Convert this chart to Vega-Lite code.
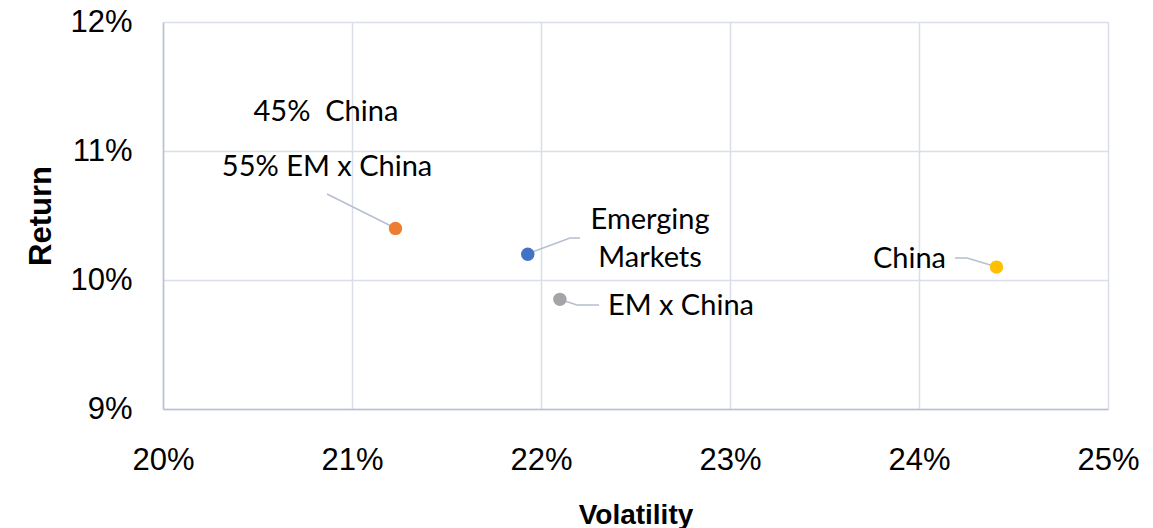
{
  "$schema": "https://vega.github.io/schema/vega-lite/v6.json",
  "width": 945,
  "height": 387,
  "autosize": {"type": "none"},
  "padding": {"left": 163, "top": 22, "right": 45, "bottom": 119},
  "background": "white",
  "config": {"view": {"stroke": null}, "font": "Liberation Sans"},
  "datasets": {
    "points": [
      {"name": "45% China / 55% EM x China", "vol": 21.23, "ret": 10.40},
      {"name": "Emerging Markets", "vol": 21.93, "ret": 10.20},
      {"name": "EM x China", "vol": 22.10, "ret": 9.85},
      {"name": "China", "vol": 24.41, "ret": 10.10}
    ],
    "leaders": [
      {"g": "mix", "ord": 1, "vol": 20.868, "ret": 10.667},
      {"g": "mix", "ord": 2, "vol": 21.228, "ret": 10.403},
      {"g": "em", "ord": 1, "vol": 21.926, "ret": 10.202},
      {"g": "em", "ord": 2, "vol": 22.153, "ret": 10.326},
      {"g": "em", "ord": 3, "vol": 22.206, "ret": 10.326},
      {"g": "exc", "ord": 1, "vol": 22.095, "ret": 9.853},
      {"g": "exc", "ord": 2, "vol": 22.190, "ret": 9.806},
      {"g": "exc", "ord": 3, "vol": 22.307, "ret": 9.806},
      {"g": "cn", "ord": 1, "vol": 24.190, "ret": 10.171},
      {"g": "cn", "ord": 2, "vol": 24.254, "ret": 10.171},
      {"g": "cn", "ord": 3, "vol": 24.413, "ret": 10.101}
    ],
    "labels": [
      {"text": "45%\u00a0 China", "vol": 20.862, "ret": 11.302, "align": "center"},
      {"text": "55% EM x China", "vol": 20.868, "ret": 10.876, "align": "center"},
      {"text": "Emerging", "vol": 22.577, "ret": 10.465, "align": "center"},
      {"text": "Markets", "vol": 22.577, "ret": 10.171, "align": "center"},
      {"text": "EM x China", "vol": 22.354, "ret": 9.798, "align": "left"},
      {"text": "China", "vol": 24.143, "ret": 10.163, "align": "right"}
    ]
  },
  "encoding": {
    "x": {
      "field": "vol", "type": "quantitative",
      "scale": {"domain": [20, 25], "nice": false, "zero": false},
      "axis": {
        "title": "Volatility", "values": [20, 21, 22, 23, 24, 25],
        "labelExpr": "datum.value + '%'",
        "grid": true, "gridColor": "#d9dee8", "gridWidth": 1.5,
        "domainColor": "#b8c0d2", "domainWidth": 1.5,
        "ticks": false, "tickSize": 0,
        "labelFontSize": 31, "labelColor": "#000000", "labelPadding": 36,
        "labelFlush": false,
        "titleFontSize": 28, "titleFontWeight": "bold", "titleColor": "#000000",
        "titlePadding": 26
      }
    },
    "y": {
      "field": "ret", "type": "quantitative",
      "scale": {"domain": [9, 12], "nice": false, "zero": false},
      "axis": {
        "title": "Return", "values": [9, 10, 11, 12],
        "labelExpr": "datum.value + '%'",
        "grid": true, "gridColor": "#d9dee8", "gridWidth": 1.5,
        "domainColor": "#b8c0d2", "domainWidth": 1.5,
        "ticks": false, "tickSize": 0,
        "labelFontSize": 31, "labelColor": "#000000", "labelPadding": 31,
        "labelFlush": false,
        "titleFontSize": 31, "titleFontWeight": "bold", "titleColor": "#000000",
        "titlePadding": 12
      }
    }
  },
  "layer": [
    {
      "data": {"name": "leaders"},
      "mark": {"type": "line", "color": "#b4bfd0", "strokeWidth": 1.5},
      "encoding": {
        "detail": {"field": "g"},
        "order": {"field": "ord", "type": "quantitative"}
      }
    },
    {
      "data": {"name": "points"},
      "mark": {"type": "circle", "size": 180, "opacity": 1},
      "encoding": {
        "color": {
          "field": "name", "type": "nominal", "legend": null,
          "scale": {
            "domain": ["45% China / 55% EM x China", "Emerging Markets", "EM x China", "China"],
            "range": ["#ed7d31", "#4472c4", "#a5a5a5", "#ffc000"]
          }
        }
      }
    },
    {
      "data": {"name": "labels"},
      "transform": [{"filter": "datum.align == 'center'"}],
      "mark": {"type": "text", "font": "Lato", "fontSize": 29, "color": "#000000", "align": "center", "baseline": "middle"},
      "encoding": {"text": {"field": "text"}}
    },
    {
      "data": {"name": "labels"},
      "transform": [{"filter": "datum.align == 'left'"}],
      "mark": {"type": "text", "font": "Lato", "fontSize": 29, "color": "#000000", "align": "left", "baseline": "middle"},
      "encoding": {"text": {"field": "text"}}
    },
    {
      "data": {"name": "labels"},
      "transform": [{"filter": "datum.align == 'right'"}],
      "mark": {"type": "text", "font": "Lato", "fontSize": 29, "color": "#000000", "align": "right", "baseline": "middle"},
      "encoding": {"text": {"field": "text"}}
    }
  ]
}
